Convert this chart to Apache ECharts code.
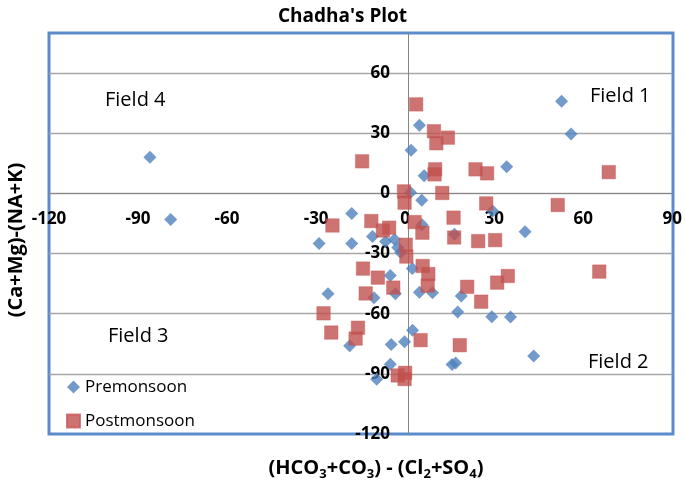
<!DOCTYPE html>
<html>
<head>
<meta charset="utf-8">
<script src="https://cdn.jsdelivr.net/npm/echarts@6/dist/echarts.min.js"></script>
<style>html,body{margin:0;padding:0;background:#fff;}#c{width:685px;height:485px;}</style>
</head>
<body>
<div id="c"></div>
<script>
// Data: [x, y]
const premonsoon = [
  [-86,18],[-79,-13],[-18,-10],[-29,-25],[-18,-25],[-11,-21.5],[-6.6,-24],[-3.6,-23],
  [-2.5,-27],[-1.5,-29.5],[-26,-50],[-10.5,-52],[-5,-41],[-3.3,-50],[2.4,-37.5],[4.8,-49.3],
  [9.2,-49.6],[2.5,-68.2],[-0.2,-74],[-4.7,-75.3],[-18.7,-76],[-5,-85.2],[-9.6,-92.7],
  [4.8,34],[2,21.5],[6.4,8.8],[1.8,0.5],[5.6,-3.4],[5.7,-15.6],[52.7,46],[55.9,29.6],
  [34.2,13.3],[29.5,-8.8],[40.4,-19.1],[16.6,-20.4],[18.9,-51.2],[17.7,-59.1],[29.2,-61.5],
  [35.5,-61.7],[43.3,-81.1],[15.8,-85.3],[17,-84.6]
];
const postmonsoon = [
  [3.7,44.4],[9.7,31],[14.4,27.8],[10.5,25],[-14.5,16],[10.1,12],[9.9,9.5],[23.7,12],
  [27.6,10],[68.6,10.6],[-0.4,1],[12.5,0.2],[-0.2,-4.6],[27.3,-5],[51.4,-5.8],[16.3,-12.1],
  [16.5,-22],[24.6,-23.8],[30.3,-23.3],[65.4,-39],[34.6,-41.2],[31,-44.5],[20.9,-46.6],
  [25.6,-54],[18.4,-75.7],[-24.5,-16],[-11.4,-13.8],[-7.5,-18.5],[-5.4,-17.1],[3.2,-14.3],
  [5.8,-19.6],[0.2,-25.6],[0.4,-31.5],[-14.2,-37.5],[-9.2,-42],[5.9,-36.2],[7.8,-40.2],
  [7.6,-46],[-4,-47],[-13.3,-49.9],[-27.5,-59.8],[-24.9,-69.4],[-15.9,-67],[-16.7,-72.4],
  [5.2,-73.2],[-2.5,-90.8],[0,-89.5],[-0.2,-92.6]
];
const seriesNames = ['Premonsoon', 'Postmonsoon'];
const fieldLabels = ['Field 1', 'Field 2', 'Field 3', 'Field 4'];
const xRange = [-120, 90];
const yRange = [-120, 80];
const tickStep = 30;

const FONT = '"Open Sans", "Noto Sans", sans-serif';
const chart = echarts.init(document.getElementById('c'), null, {renderer: 'canvas'});
const GL = 49, GT = 33, GW = 624, GH = 401;
const GRID = '#A6A6A6';

const option = {
  animation: false,
  backgroundColor: '#fff',
  title: {
    text: "Chadha's Plot", left: 'center', top: 2,
    textStyle: {fontFamily: FONT, fontSize: 19, fontWeight: 'bold', color: '#000'}
  },
  grid: {left: GL, top: GT, width: GW, height: GH, show: false},
  legend: {
    orient: 'vertical', left: 61, top: 372, itemGap: 14, itemWidth: 13, itemHeight: 13,
    textStyle: {fontFamily: FONT, fontSize: 17, color: '#000', lineHeight: 20},
    data: [
      {name: seriesNames[0], icon: 'diamond'},
      {name: seriesNames[1], icon: 'rect'}
    ]
  },
  xAxis: {
    type: 'value', min: xRange[0], max: xRange[1], interval: tickStep, z: 2,
    axisLine: {onZero: false, lineStyle: {color: '#868686', width: 1}},
    axisTick: {show: false},
    splitLine: {show: false},
    axisLabel: {margin: 17, fontFamily: FONT, fontSize: 17, fontWeight: 'bold', color: '#000'}
  },
  yAxis: {
    type: 'value', min: yRange[0], max: yRange[1], interval: tickStep, z: 2,
    axisLine: {show: true, onZero: false, lineStyle: {color: '#868686', width: 1}},
    axisTick: {show: false},
    // first (-120) and last (80) lines sit on the plot border: keep them invisible
    splitLine: {show: true, lineStyle: {color: ['rgba(0,0,0,0)', GRID, GRID, GRID, GRID, GRID, GRID], width: 1.3}},
    axisLabel: {margin: 18, showMaxLabel: false, fontFamily: FONT, fontSize: 17, fontWeight: 'bold', color: '#000'}
  },
  series: [
    {
      name: seriesNames[0], type: 'scatter', symbol: 'diamond', symbolSize: 13,
      itemStyle: {color: '#4F81BD'}, data: premonsoon, z: 3
    },
    {
      name: seriesNames[1], type: 'scatter', symbol: 'rect', symbolSize: 13.5,
      itemStyle: {color: '#C0504D', borderColor: '#C65B58', borderWidth: 0.5}, data: postmonsoon, z: 4
    }
  ],
  graphic: [
    {type: 'rect', z: 1, silent: true, shape: {x: GL, y: GT, width: GW, height: GH},
     style: {fill: 'none', stroke: '#5B8BCB', lineWidth: 3}},
    {type: 'text', left: 590, top: 86, style: {text: fieldLabels[0], font: '20px ' + FONT, fill: '#000'}},
    {type: 'text', left: 588, top: 352, style: {text: fieldLabels[1], font: '20px ' + FONT, fill: '#000'}},
    {type: 'text', left: 108, top: 326, style: {text: fieldLabels[2], font: '20px ' + FONT, fill: '#000'}},
    {type: 'text', left: 105, top: 90, style: {text: fieldLabels[3], font: '20px ' + FONT, fill: '#000'}},
    {type: 'text', z: 10, x: 376, y: 468, style: {
      text: '(HCO{s|3}+CO{s|3}) - (Cl{s|2}+SO{s|4})',
      align: 'center', verticalAlign: 'middle',
      fontFamily: FONT, fontSize: 20, fontWeight: 'bold', fill: '#000', lineHeight: 26,
      rich: {s: {fontFamily: FONT, fontSize: 13, fontWeight: 'bold', fill: '#000', lineHeight: 14, verticalAlign: 'bottom'}}
    }},
    {type: 'text', z: 10, x: 16, y: 240, rotation: Math.PI / 2, style: {
      text: '(Ca+Mg)-(NA+K)', align: 'center', verticalAlign: 'middle',
      fontFamily: FONT, fontSize: 20, fontWeight: 'bold', fill: '#000'
    }}
  ]
};
chart.setOption(option);

// Move the axes (line + labels) so they cross at the origin, as in the reference.
const zeroY = chart.convertToPixel({yAxisIndex: 0}, 0);
const zeroX = chart.convertToPixel({xAxisIndex: 0}, 0);
chart.setOption({
  xAxis: {offset: -((GT + GH) - zeroY)},
  yAxis: {offset: -(zeroX - GL)}
});
</script>
</body>
</html>
